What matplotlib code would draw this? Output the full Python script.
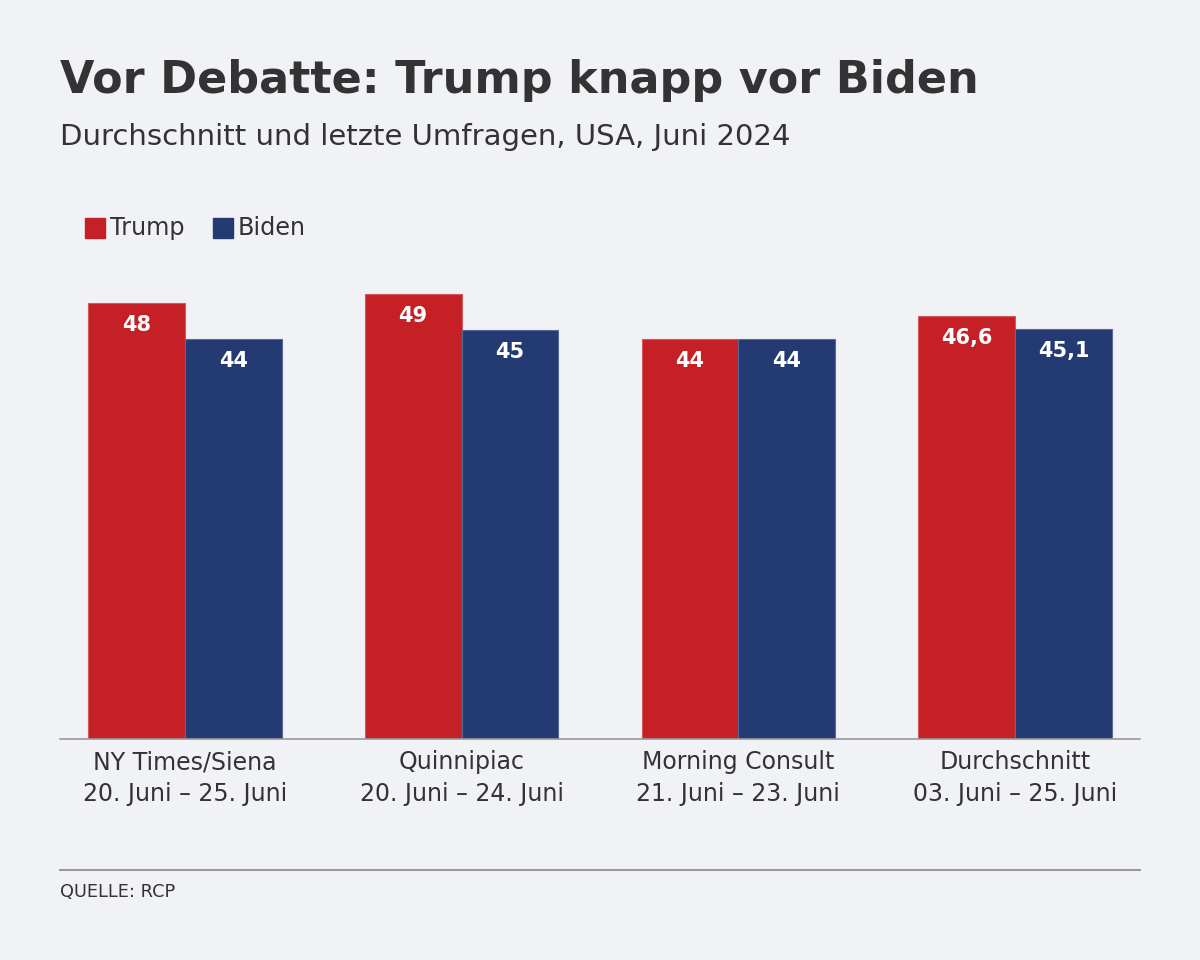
import matplotlib
matplotlib.use('Agg')
import matplotlib.pyplot as plt
import numpy as np

plt.rcParams['font.family'] = ['DejaVu Sans']

categories = ['NY Times/Siena\n20. Juni – 25. Juni', 'Quinnipiac\n20. Juni – 24. Juni',
              'Morning Consult\n21. Juni – 23. Juni', 'Durchschnitt\n03. Juni – 25. Juni']
trump = [48, 49, 44, 46.6]
biden = [44, 45, 44, 45.1]
series_names = ['Trump', 'Biden']

bg = '#f1f2f6'
red = '#c42026'
blue = '#233a72'
txt = '#333333'

W, H = 1200, 960
fig = plt.figure(figsize=(12, 9.6), dpi=100, facecolor=bg)

# axes: x 60..1140, baseline y=739, scale ~9.08 px per unit
ax_top_px = 260
ax = fig.add_axes([60 / W, 1 - 739 / H, 1080 / W, (739 - ax_top_px) / H])
ax.set_facecolor(bg)
x = np.arange(len(categories))
w = 0.35
b1 = ax.bar(x - w / 2, trump, w, color=red, edgecolor='#d4585c', linewidth=0.8)
b2 = ax.bar(x + w / 2, biden, w, color=blue, edgecolor='#5a6a96', linewidth=0.8)
ax.set_xlim(-0.451, 3.451)
ax.set_ylim(0, (739 - ax_top_px) / 9.08)

for bars, vals in ((b1, trump), (b2, biden)):
    for bar, v in zip(bars, vals):
        lab = f'{v:g}'.replace('.', ',')
        ax.annotate(lab, (bar.get_x() + bar.get_width() / 2, v), xytext=(0, -22),
                    textcoords='offset pixels', ha='center', va='center',
                    color='white', fontsize=15, fontweight='bold')

for s in ['top', 'right', 'left']:
    ax.spines[s].set_visible(False)
ax.spines['bottom'].set_color('#999999')
ax.spines['bottom'].set_linewidth(1.2)
ax.set_yticks([])
ax.set_xticks(x)
ax.set_xticklabels(categories, fontsize=17, color=txt, linespacing=1.43)
ax.tick_params(axis='x', length=0, pad=8)

fig.text(60 / W, 1 - 80 / H, 'Vor Debatte: Trump knapp vor Biden', fontsize=32,
         fontweight='bold', color=txt, va='center', ha='left')
fig.text(60 / W, 1 - 137 / H, 'Durchschnitt und letzte Umfragen, USA, Juni 2024',
         fontsize=21, color=txt, va='center', ha='left')

# legend
leg_x = [85, 213]
for lx, name, col in zip(leg_x, series_names, [red, blue]):
    fig.patches.append(plt.Rectangle((lx / W, 1 - 238 / H), 20 / W, 20 / H,
                                     transform=fig.transFigure, color=col))
    fig.text((lx + 25) / W, 1 - 228 / H, name, fontsize=17.2, color=txt,
             va='center', ha='left')

fig.add_artist(plt.Line2D([60 / W, 1140 / W], [1 - 870 / H, 1 - 870 / H],
                          color='#999999', linewidth=1.5))
fig.text(60 / W, 1 - 892 / H, 'QUELLE: RCP', fontsize=12.8, color=txt,
         va='center', ha='left')

plt.savefig('out.png', dpi=100, facecolor=bg)
